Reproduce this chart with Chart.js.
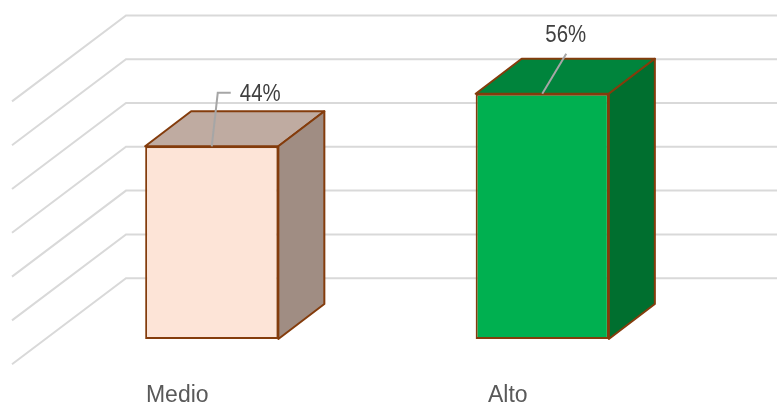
<!DOCTYPE html>
<html><head><meta charset="utf-8">
<style>html,body{margin:0;padding:0;background:#fff;overflow:hidden}#w{width:777px;height:403px;position:relative}</style>
<script src="https://cdn.jsdelivr.net/npm/chart.js@4"></script></head>
<body><div id="w"><canvas id="c"></canvas></div>
<script>
const categories = ['Medio', 'Alto'];
const values = [44, 56];
const tickValues = [0, 10, 20, 30, 40, 50, 60];

const front = ['#FDE4D7', '#00B050'];
const topFace = ['#BFABA1', '#00843C'];
const sideFace = ['#A08D83', '#006F2F'];
const edge = '#843C0C';
const depth = {dx: 46, dy: 35};
const wall = {left: 126, frontLeft: 12, backDy: 60.8, frontDy: 25.2};
const callouts = [
  {pts: [[0, 0], [6, -53.5], [19, -53.5]], tx: 48.5, ty: -53},
  {pts: [[0, 0], [24, -40]], tx: 23.5, ty: -59}
];

const threeD = {
  id: 'threeD',
  beforeDatasetsDraw(chart) {
    const c = chart.ctx, y = chart.scales.y;
    c.save();
    c.strokeStyle = '#D9D9D9'; c.lineWidth = 2; c.lineJoin = 'miter';
    y.ticks.forEach(t => {
      const p = y.getPixelForValue(t.value);
      c.beginPath();
      c.moveTo(wall.frontLeft, p + wall.frontDy);
      c.lineTo(wall.left, p - wall.backDy);
      c.lineTo(chart.width, p - wall.backDy);
      c.stroke();
    });
    chart.getDatasetMeta(0).data.forEach((b, i) => {
      const l = b.x - b.width / 2, r = b.x + b.width / 2, t = b.y, bt = b.base;
      c.strokeStyle = edge; c.lineWidth = 2; c.lineJoin = 'round';
      c.fillStyle = topFace[i];
      c.beginPath(); c.moveTo(l, t); c.lineTo(l + depth.dx, t - depth.dy); c.lineTo(r + depth.dx, t - depth.dy); c.lineTo(r, t); c.closePath(); c.fill(); c.stroke();
      c.fillStyle = sideFace[i];
      c.beginPath(); c.moveTo(r, t); c.lineTo(r + depth.dx, t - depth.dy); c.lineTo(r + depth.dx, bt - depth.dy); c.lineTo(r, bt); c.closePath(); c.fill(); c.stroke();
    });
    c.restore();
  },
  afterDatasetsDraw(chart) {
    const c = chart.ctx;
    c.save();
    chart.getDatasetMeta(0).data.forEach((b, i) => {
      const k = callouts[i];
      c.strokeStyle = '#A6A6A6'; c.lineWidth = 2;
      c.beginPath();
      k.pts.forEach((p, j) => { const X = b.x + p[0], Y = b.y + p[1]; j ? c.lineTo(X, Y) : c.moveTo(X, Y); });
      c.stroke();
      c.fillStyle = '#404040';
      c.font = '24px "Liberation Sans"';
      c.textAlign = 'center'; c.textBaseline = 'middle';
      c.save();
      c.translate(b.x + k.tx, b.y + k.ty);
      c.scale(0.85, 1);
      c.fillText(values[i] + '%', 0, 1);
      c.restore();
    });
    c.restore();
  }
};

new Chart(document.getElementById('c'), {
  type: 'bar',
  data: {
    labels: categories,
    datasets: [{
      data: values,
      backgroundColor: front,
      borderColor: edge,
      borderWidth: 2,
      borderSkipped: false,
      barPercentage: 0.403,
      categoryPercentage: 1
    }]
  },
  plugins: [threeD],
  options: {
    responsive: true,
    maintainAspectRatio: false,
    animation: false,
    layout: {padding: {left: 46.5, right: 69.5, top: 76.2, bottom: 0}},
    plugins: {legend: {display: false}, tooltip: {enabled: false}},
    scales: {
      x: {
        grid: {display: false, drawTicks: false},
        border: {display: false},
        afterFit(s) { s.height = 64; },
        ticks: {
          color: '#595959',
          font: {family: '"Liberation Sans"', size: 23},
          padding: 43,
          labelOffset: -34.5,
          maxRotation: 0,
          autoSkip: false
        }
      },
      y: {
        display: false,
        min: tickValues[0],
        max: tickValues[tickValues.length - 1],
        ticks: {stepSize: tickValues[1] - tickValues[0]}
      }
    }
  }
});
</script></body></html>
